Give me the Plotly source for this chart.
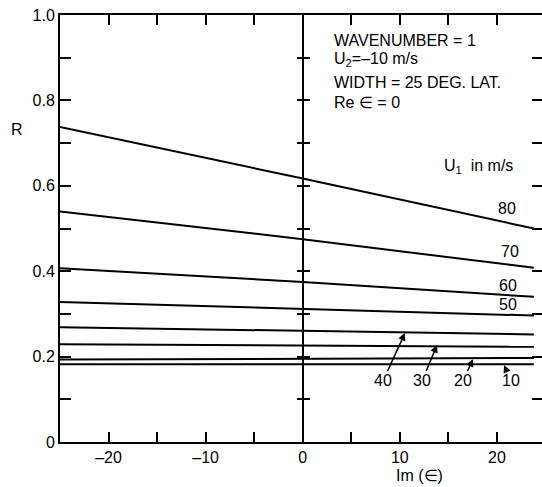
import plotly.graph_objects as go

# ---- data ----
im_eps = [-25, 0, 23.8]                      # Im(epsilon) sample points
u1_speeds = [80, 70, 60, 50, 40, 30, 20, 10]  # U1 in m/s
r_u80 = [0.738, 0.617, 0.500]
r_u70 = [0.540, 0.475, 0.408]
r_u60 = [0.407, 0.375, 0.340]
r_u50 = [0.328, 0.312, 0.296]
r_u40 = [0.269, 0.261, 0.252]
r_u30 = [0.229, 0.226, 0.223]
r_u20 = [0.193, 0.195, 0.197]
r_u10 = [0.182, 0.182, 0.182]
r_series = [r_u80, r_u70, r_u60, r_u50, r_u40, r_u30, r_u20, r_u10]

x_tickvals = [-20, -15, -10, -5, 0, 5, 10, 15, 20]
x_ticktext = ["–20", "", "–10", "", "0", "", "10", "", "20"]
y_tickvals = [0, 0.1, 0.2, 0.3, 0.4, 0.5, 0.6, 0.7, 0.8, 0.9, 1.0]
y_ticktext = ["0", "", "0.2", "", "0.4", "", "0.6", "", "0.8", "", "1.0"]
inner_ticks = [0.1, 0.2, 0.3, 0.4, 0.5, 0.6, 0.7, 0.8, 0.9]

X_RANGE = [-25, 24.64]
Y_RANGE = [0, 1]
FONT = "Liberation Sans, Arial, sans-serif"

fig = go.Figure()
for spd, r in zip(u1_speeds, r_series):
    fig.add_trace(go.Scatter(x=im_eps, y=r, mode="lines",
                             line=dict(color="black", width=2),
                             name=f"U1={spd}", showlegend=False,
                             hoverinfo="skip"))

# dummy traces so that the extra tick-only axes are drawn
for ya in ["y2", "y3", "y4"]:
    fig.add_trace(go.Scatter(x=[None], y=[None], yaxis=ya, showlegend=False,
                             hoverinfo="skip"))

# curve labels on the right
right_labels = [("80", 21.04, 0.546), ("70", 21.34, 0.447),
                ("60", 21.14, 0.3665), ("50", 21.14, 0.321)]
for txt, xx, yy in right_labels:
    fig.add_annotation(x=xx, y=yy, xref="x", yref="y", text=txt,
                       showarrow=False, font=dict(size=16, family=FONT, color="black"))

# arrowed labels at the bottom: (text, head x, head y, text x, text y)
arrow_labels = [("40", 10.53, 0.255, 8.26, 0.143),
                ("30", 13.83, 0.227, 12.28, 0.143),
                ("20", 17.53, 0.194, 16.50, 0.143),
                ("10", 20.73, 0.180, 21.45, 0.143)]
for txt, hx, hy, tx, ty in arrow_labels:
    fig.add_annotation(x=hx, y=hy, xref="x", yref="y", ax=tx, ay=ty,
                       axref="x", ayref="y", text=txt, showarrow=True,
                       arrowhead=2, arrowsize=1, arrowwidth=1.5,
                       arrowcolor="black", standoff=0, startstandoff=0,
                       font=dict(size=16, family=FONT, color="black"))

# text block
info_lines = [("WAVENUMBER = 1", 0.940),
              ("U<sub>2</sub>=–10 m/s", 0.895),
              ("WIDTH = 25 DEG. LAT.", 0.843),
              ("Re ∈ = 0", 0.796)]
for txt, yy in info_lines:
    fig.add_annotation(x=3.0, y=yy, xref="x", yref="y", text=txt,
                       xanchor="left", yanchor="middle", showarrow=False,
                       font=dict(size=16, family=FONT, color="black"))

fig.add_annotation(x=18.1, y=0.645, xref="x", yref="y", text="U<sub>1</sub>  in m/s",
                   showarrow=False, font=dict(size=16, family=FONT, color="black"))

# axis titles (paper coordinates, relative to the plot area)
fig.add_annotation(x=-0.089, y=0.731, xref="paper", yref="paper", text="R",
                   xanchor="center", yanchor="middle",
                   showarrow=False, font=dict(size=16, family=FONT, color="black"))
fig.add_annotation(x=12.0, y=-0.079, xref="x", yref="paper", text="Im (∈)",
                   xanchor="center", yanchor="middle",
                   showarrow=False, font=dict(size=16, family=FONT, color="black"))

fig.update_layout(
    width=542, height=487,
    margin=dict(l=60, r=0, t=15, b=45),
    paper_bgcolor="white", plot_bgcolor="white",
    font=dict(family=FONT, size=16, color="black"),
    xaxis=dict(range=X_RANGE, tickvals=x_tickvals, ticktext=x_ticktext,
               ticks="inside", ticklen=10, tickwidth=2, tickcolor="black",
               showline=True, linewidth=2, linecolor="black", mirror="ticks",
               showgrid=False, zeroline=True, zerolinewidth=2,
               zerolinecolor="black", tickfont=dict(size=16)),
    yaxis=dict(range=Y_RANGE, tickvals=y_tickvals, ticktext=y_ticktext,
               ticks="inside", ticklen=11, tickwidth=2, tickcolor="black",
               showline=True, linewidth=2, linecolor="black",
               showgrid=False, zeroline=False, tickfont=dict(size=16)),
    yaxis2=dict(range=Y_RANGE, overlaying="y", side="right", anchor="x",
                tickvals=inner_ticks, ticks="inside", ticklen=10, tickwidth=2,
                tickcolor="black", showticklabels=False, showline=False,
                showgrid=False, zeroline=False),
    yaxis3=dict(range=Y_RANGE, overlaying="y", side="left", anchor="free",
                position=(0 - X_RANGE[0]) / (X_RANGE[1] - X_RANGE[0]),
                tickvals=inner_ticks, ticks="outside", ticklen=6, tickwidth=2,
                tickcolor="black", showticklabels=False, showline=False,
                showgrid=False, zeroline=False),
    yaxis4=dict(range=Y_RANGE, overlaying="y", side="right", anchor="free",
                position=(0 - X_RANGE[0]) / (X_RANGE[1] - X_RANGE[0]),
                tickvals=inner_ticks, ticks="outside", ticklen=6, tickwidth=2,
                tickcolor="black", showticklabels=False, showline=False,
                showgrid=False, zeroline=False),
)

fig.write_html("out.html")
